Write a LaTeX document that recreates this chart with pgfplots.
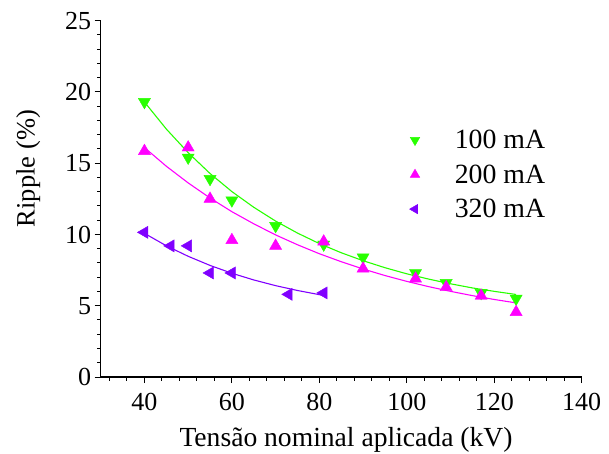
\documentclass[border=0pt]{standalone}
\usepackage{pgfplots}
\pgfplotsset{compat=1.18}
\usepackage{fontspec}
\setmainfont{Liberation Serif}
\definecolor{cgreen}{RGB}{40,255,0}
\definecolor{cmag}{RGB}{255,0,255}
\definecolor{cpur}{RGB}{128,0,255}
\begin{document}
\begin{tikzpicture}
\useasboundingbox (-100.7pt,-76pt) rectangle (508.3pt,377pt);
\begin{axis}[
 at={(0pt,0pt)}, anchor=south west,
 scale only axis, width=481pt, height=356.3pt,
 xmin=30, xmax=140, ymin=0, ymax=25,
 axis x line*=bottom, axis y line*=left,
 axis line style={line width=1.2pt, -},
 xtick={40,60,...,140}, ytick={0,5,...,25},
 minor xtick={32,36,...,136}, minor ytick={0,1,...,25},
 tick align=outside, major tick length=6pt, minor tick length=3.5pt,
 every tick/.style={black, line width=1pt},
 tick label style={font=\fontsize{26}{30}\selectfont},
 xticklabel style={yshift=-7pt},
 /pgf/number format/assume math mode=true,
 xlabel={Tensão nominal aplicada (kV)}, ylabel={Ripple (\%)},
 xlabel style={at={(ticklabel cs:0.51)}, font=\fontsize{27.6}{32}\selectfont},
 ylabel style={at={(ticklabel cs:0.585)}, font=\fontsize{26.5}{31}\selectfont},
 xlabel shift=9pt, ylabel shift=18pt,
 legend style={at={(0.6416,0.699)}, anchor=north west, draw=none, fill=none,
   font=\fontsize{27.8}{32}\selectfont, row sep=10.5pt, inner sep=0pt,
   /tikz/every odd column/.append style={column sep=33pt}},
 legend cell align=left,
]
\addplot[cgreen, line width=1.1pt, forget plot] coordinates {
(40,19.30)(45,17.40)(50,15.74)(55,14.28)(60,13.01)(65,11.91)(70,10.94)(75,10.10)(80,9.36)(85,8.72)(90,8.16)(95,7.67)(100,7.24)(105,6.87)(110,6.54)(115,6.25)(120,6.01)(125,5.79)};
\addplot[cmag, line width=1.1pt, forget plot] coordinates {
(40,16.10)(45,14.79)(50,13.62)(55,12.56)(60,11.60)(65,10.75)(70,9.97)(75,9.28)(80,8.65)(85,8.09)(90,7.58)(95,7.12)(100,6.71)(105,6.34)(110,6.01)(115,5.71)(120,5.44)(125,5.20)};
\addplot[cpur, line width=1.1pt, forget plot] coordinates {
(40,10.08)(45,9.21)(50,8.47)(55,7.83)(60,7.28)(65,6.81)(70,6.41)(75,6.07)(81,5.72)};
\addplot[only marks, mark=triangle*, mark size=7pt, color=cgreen, mark options={rotate=180, fill=cgreen, draw=cgreen}, legend image post style={mark size=5.5pt}] coordinates {
(40,19.3)(50,15.4)(55,13.9)(60,12.4)(70,10.6)(81,9.3)(90,8.4)(102,7.3)(109,6.6)(117,5.9)(125,5.5)};
\addlegendentry{100 mA}
\addplot[only marks, mark=triangle*, mark size=7pt, color=cmag, mark options={fill=cmag, draw=cmag}, legend image post style={mark size=5.5pt}] coordinates {
(40,15.85)(50,16.1)(55,12.5)(60,9.6)(70,9.2)(81,9.5)(90,7.6)(102,6.9)(109,6.3)(117,5.7)(125,4.55)};
\addlegendentry{200 mA}
\addplot[only marks, mark=triangle*, mark size=7pt, color=cpur, mark options={rotate=90, fill=cpur, draw=cpur}, legend image post style={mark size=5.5pt}] coordinates {
(40,10.15)(46,9.2)(50,9.2)(55,7.3)(60,7.3)(73,5.8)(81,5.9)};
\addlegendentry{320 mA}
\end{axis}
\end{tikzpicture}
\end{document}
